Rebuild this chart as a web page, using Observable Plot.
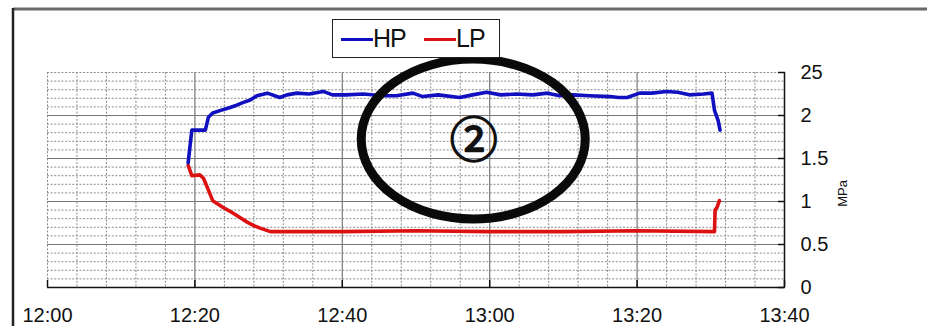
<!DOCTYPE html>
<html><head><meta charset="utf-8">
<script src="https://cdn.jsdelivr.net/npm/d3@7"></script>
<script src="https://cdn.jsdelivr.net/npm/@observablehq/plot@0.6"></script>
<style>
body{margin:0;background:#fff;}
#wrap{position:relative;width:927px;height:326px;overflow:hidden;background:#fff;}
#legend{position:absolute;left:332px;top:19px;width:166px;height:37px;border:1.5px solid #222;background:#fff;font-family:'Liberation Sans',Arial,sans-serif;font-size:25px;color:#111;}
#legend .sw{position:absolute;top:18px;height:3px;width:32px;}
#legend .lb{position:absolute;top:3px;line-height:30px;letter-spacing:-1px;}
</style></head><body><div id="wrap"></div>
<script>
// ---- data ----
const hpTimes = ["12:19:05","12:19:35","12:21:25","12:21:50","12:22:25","12:23:30","12:24:40","12:25:40","12:26:30","12:27:30","12:28:25","12:29:50","12:31:30","12:32:30","12:33:50","12:35:30","12:37:25","12:38:40","12:40:30","12:42:50","12:45:30","12:47:20","12:49:35","12:50:55","12:53:00","12:55:55","12:57:40","12:59:35","13:01:30","13:03:40","13:05:50","13:07:50","13:09:30","13:11:20","13:13:30","13:16:20","13:17:30","13:18:40","13:20:20","13:22:00","13:24:00","13:25:30","13:27:05","13:29:00","13:30:10","13:30:30","13:31:00","13:31:15"];
const hpValues = [1.45,1.83,1.83,1.98,2.03,2.06,2.09,2.12,2.15,2.18,2.23,2.26,2.21,2.24,2.26,2.25,2.28,2.24,2.24,2.25,2.23,2.23,2.26,2.22,2.24,2.21,2.24,2.27,2.24,2.25,2.24,2.26,2.23,2.24,2.23,2.22,2.21,2.21,2.26,2.26,2.28,2.27,2.24,2.25,2.26,2.06,1.94,1.83];
const lpTimes = ["12:19:05","12:19:35","12:20:40","12:21:10","12:21:45","12:22:25","12:23:50","12:25:05","12:26:10","12:27:05","12:28:00","12:28:50","12:30:15","12:33:00","12:40:00","12:50:00","13:00:00","13:10:00","13:20:00","13:30:30","13:30:35","13:30:50","13:31:10"];
const lpValues = [1.42,1.30,1.31,1.27,1.15,1.01,0.93,0.87,0.81,0.76,0.72,0.69,0.65,0.65,0.65,0.66,0.65,0.65,0.66,0.65,0.90,0.93,1.01];
const seriesNames = ["HP","LP"];
const seriesColors = ["#1010c0","#dc1212"];
const xTickLabels = ["12:00","12:20","12:40","13:00","13:20","13:40"];
const yTickValues = [0,0.5,1,1.5,2,2.5];
const yTickLabels = ["0","0.5","1","1.5","2","25"];
const yAxisTitle = "MPa";
const annotationText = "②";
const ellipseCenter = ["12:57:50", 1.72];
const ellipseRadius = [15.2, 0.93]; // minutes, MPa

// ---- build ----
const t = s => { const [h,m,sec=0] = s.split(":").map(Number); return new Date(Date.UTC(2000,0,1,h,m,sec)); };
const hp = hpTimes.map((s,i)=>({t:t(s), v:hpValues[i]}));
const lp = lpTimes.map((s,i)=>({t:t(s), v:lpValues[i]}));
const xTicks = xTickLabels.map(t);
const t0 = xTicks[0].getTime();
const minorX = d3.range(0,100,4).filter(m=>m===0||m%20!==0).map(m=>new Date(t0+m*60000));
const minorY = d3.range(1,26).map(i=>i/10).filter(v=>Math.round(v*10)%5!==0||v===2.5);
const xLab = new Map(xTicks.map((d,i)=>[+d,xTickLabels[i]]));
const yLab = new Map(yTickValues.map((d,i)=>[d,yTickLabels[i]]));
const font = "'Liberation Sans',Arial,sans-serif";

const plot = Plot.plot({
  width:927, height:326,
  marginLeft:47, marginRight:143, marginTop:72, marginBottom:39,
  style:{fontFamily:font, fontSize:"20px", color:"#111", background:"transparent", overflow:"visible"},
  x:{type:"utc", domain:[xTicks[0], xTicks[5]]},
  y:{domain:[0,2.5]},
  marks:[
    Plot.ruleY(minorY,{stroke:"#8c8c8c", strokeDasharray:"2,1.6", strokeWidth:1}),
    Plot.ruleX(minorX,{stroke:"#8c8c8c", strokeDasharray:"2,1.6", strokeWidth:1}),
    Plot.ruleY(yTickValues.slice(1,5),{stroke:"#777", strokeWidth:1.2}),
    Plot.ruleX(xTicks.slice(1,5),{stroke:"#777", strokeWidth:1.2}),
    Plot.line(lp,{x:"t", y:"v", stroke:seriesColors[1], strokeWidth:3.6}),
    Plot.line(hp,{x:"t", y:"v", stroke:seriesColors[0], strokeWidth:3.6}),
    Plot.ruleY([0],{stroke:"#111", strokeWidth:1.5}),
    Plot.ruleX([xTicks[5]],{stroke:"#111", strokeWidth:1.5}),
    Plot.axisX({ticks:xTicks, tickSize:-7, tickFormat:()=>"", stroke:"#111", strokeWidth:1.5, label:null}),
    Plot.axisX({ticks:xTicks, tickSize:0, tickPadding:20, tickFormat:d=>xLab.get(+d), label:null, fontSize:20, letterSpacing:"-1px"}),
    Plot.axisY({anchor:"right", ticks:yTickValues, tickSize:-7, tickFormat:()=>"", stroke:"#111", strokeWidth:1.5, label:null}),
    Plot.axisY({anchor:"right", ticks:yTickValues, tickSize:0, tickPadding:16, tickFormat:d=>yLab.get(d), textAnchor:"start", label:null, fontSize:20, letterSpacing:"-1px"}),
    Plot.text([yAxisTitle],{frameAnchor:"right", text:d=>d, dx:58, rotate:-90, fontSize:13}),
    Plot.text([annotationText],{x:()=>t(ellipseCenter[0]), y:()=>ellipseCenter[1], text:d=>d, fontSize:48, dx:0, dy:2, fontFamily:"'Noto Sans CJK JP',sans-serif", fill:"#111", stroke:"#111", strokeWidth:1.6})
  ]
});

const xs = plot.scale("x"), ys = plot.scale("y");
const svg = d3.select(plot);
const cT = t(ellipseCenter[0]);
const cx = xs.apply(cT), cy = ys.apply(ellipseCenter[1]);
const rx = xs.apply(new Date(cT.getTime()+ellipseRadius[0]*60000)) - cx;
const ry = cy - ys.apply(ellipseCenter[1]+ellipseRadius[1]);
svg.append("ellipse").attr("cx",cx).attr("cy",cy).attr("rx",rx).attr("ry",ry)
  .attr("fill","none").attr("stroke","#0a0a0a").attr("stroke-width",9);
// outer frame of the screenshot
svg.append("line").attr("x1",13).attr("y1",9).attr("x2",927).attr("y2",9).attr("stroke","#6a6a6a").attr("stroke-width",3);
svg.append("line").attr("x1",13).attr("y1",8).attr("x2",13).attr("y2",326).attr("stroke","#222").attr("stroke-width",2.5);

document.getElementById("wrap").appendChild(plot);

const lg = document.createElement("div");
lg.id = "legend";
const pos = [[8,40],[91,123]];
seriesNames.forEach((n,i)=>{
  const sw = document.createElement("div");
  sw.className="sw"; sw.style.left=pos[i][0]+"px"; sw.style.background=seriesColors[i];
  const lb = document.createElement("div");
  lb.className="lb"; lb.style.left=pos[i][1]+"px"; lb.textContent=n;
  lg.appendChild(sw); lg.appendChild(lb);
});
document.getElementById("wrap").appendChild(lg);
</script>
</body></html>
